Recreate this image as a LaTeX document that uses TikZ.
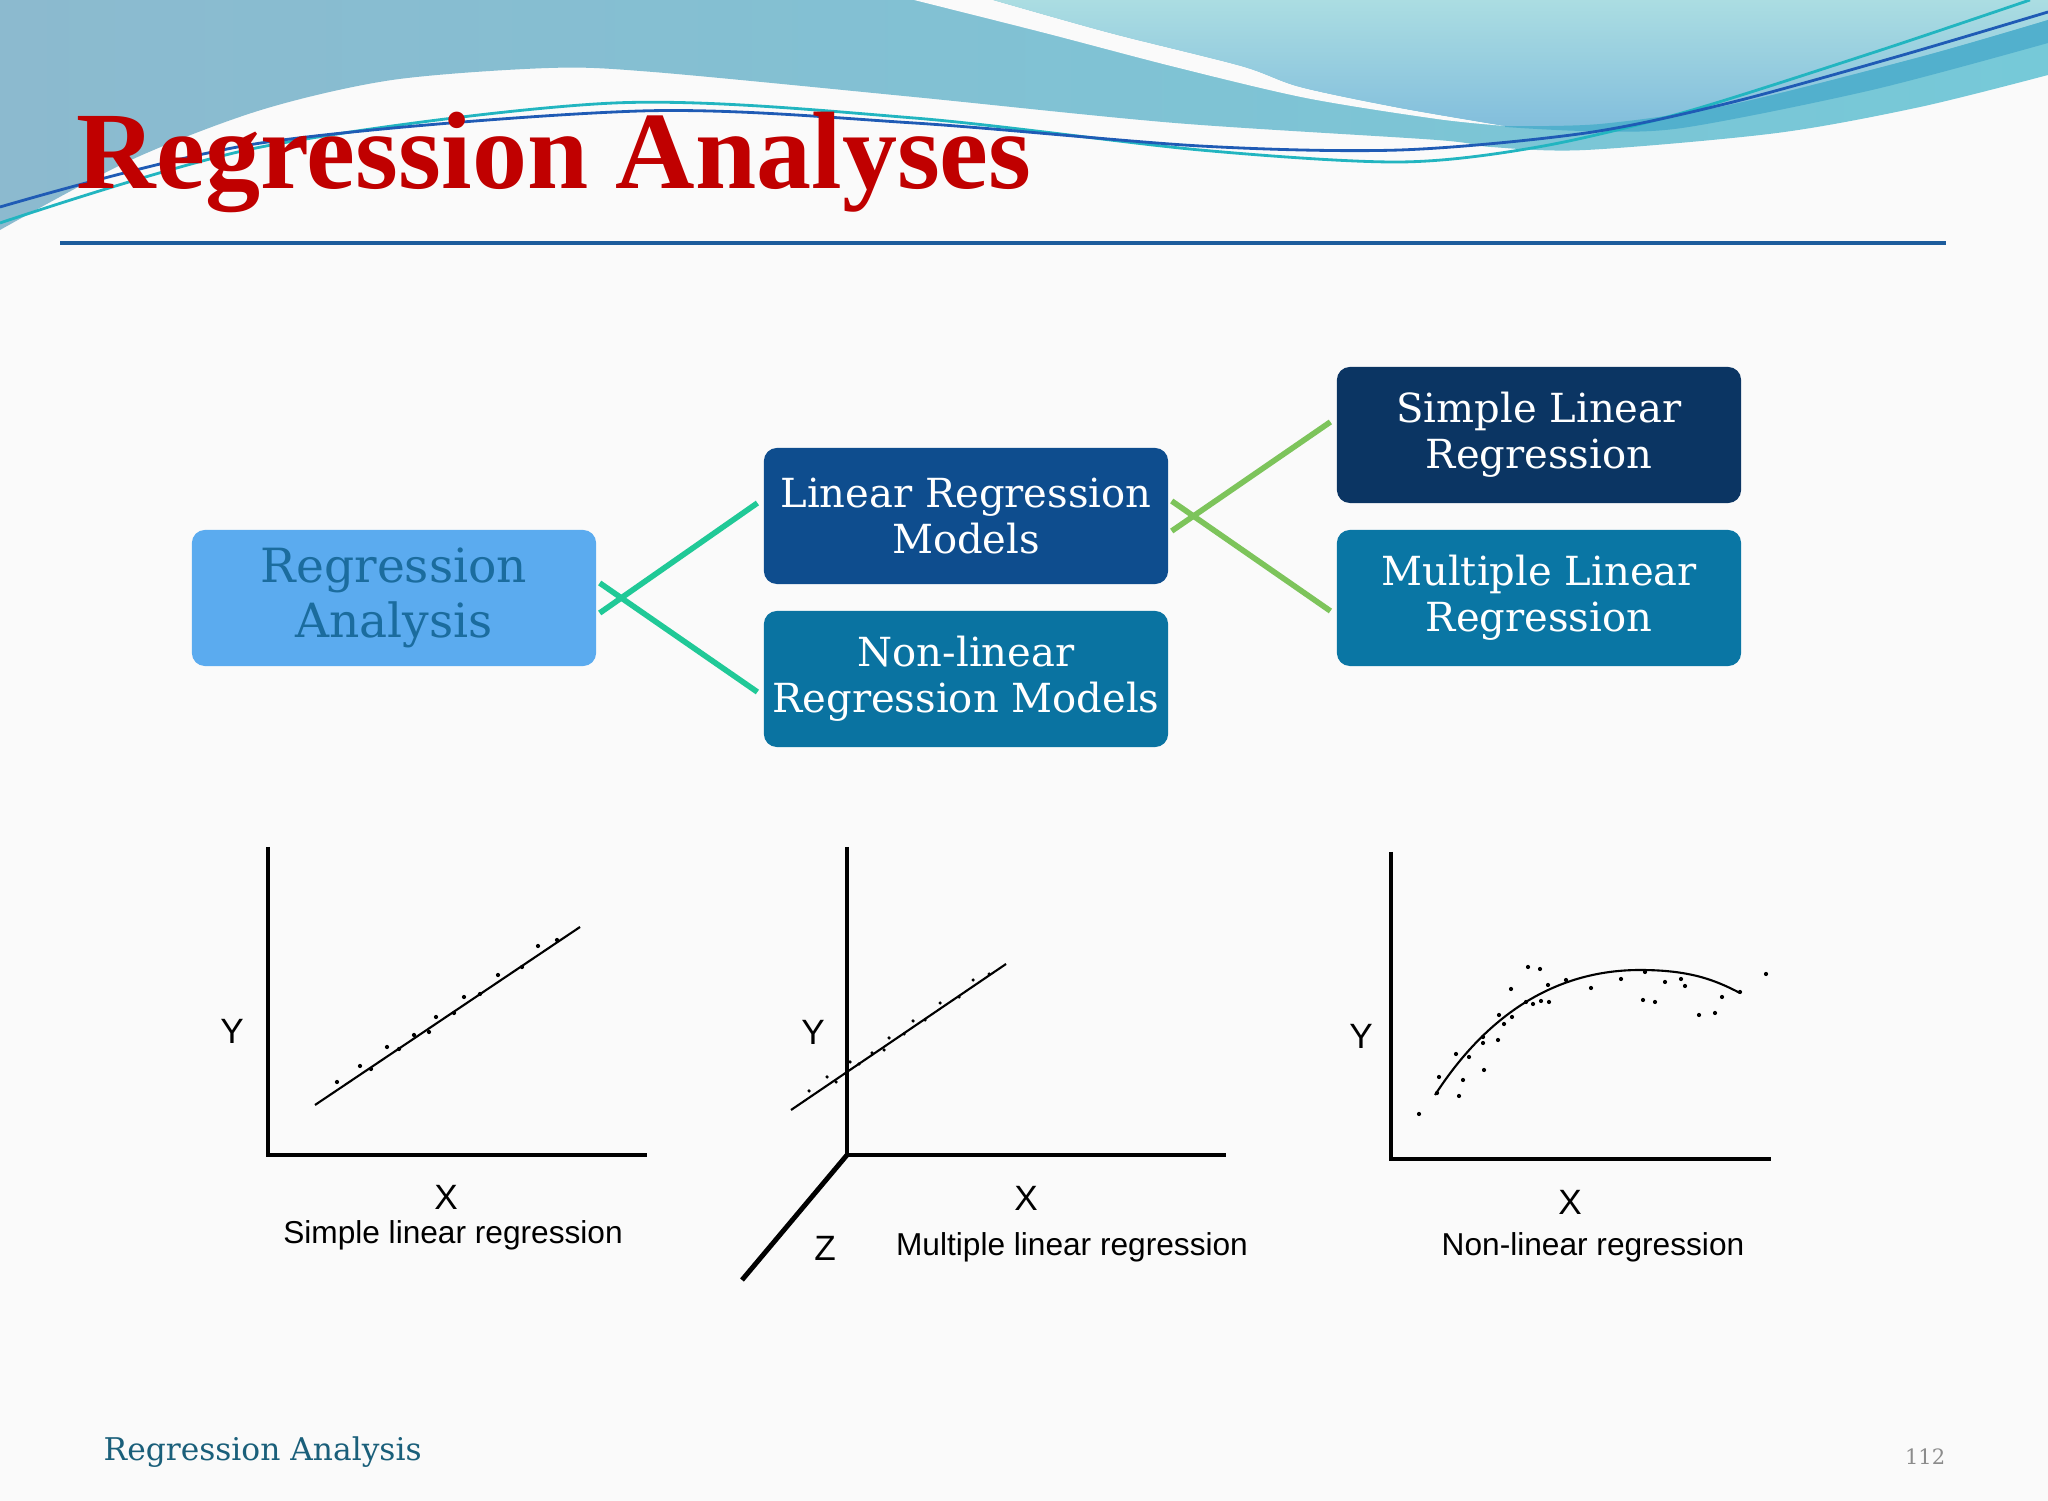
\documentclass[tikz,border=0pt]{standalone}
\usepackage{fontspec}
\setmainfont{DejaVu Serif}
\newfontfamily\titlefont{Liberation Serif}
\newfontfamily\chartfont{Liberation Sans}
\definecolor{titlered}{HTML}{C00000}
\definecolor{rulebl}{HTML}{1C5C9C}
\definecolor{raFill}{HTML}{5BABEF}
\definecolor{raText}{HTML}{1B6C9E}
\definecolor{lrmFill}{HTML}{0E4D8E}
\definecolor{nlrmFill}{HTML}{0A73A1}
\definecolor{slrFill}{HTML}{0B3563}
\definecolor{mlrFill}{HTML}{0A76A4}
\definecolor{mint}{HTML}{20C997}
\definecolor{leaf}{HTML}{7DC45B}
\definecolor{footteal}{HTML}{1A5F7A}
\tikzset{
  box/.style={rounded corners=3.7pt, minimum width=4.04cm, minimum height=1.36cm,
    align=center, text=white, inner sep=0pt, font=\fontsize{11.4}{13.1}\selectfont},
  link/.style={line width=1.6pt},
  axis/.style={line width=1.4pt},
  fitline/.style={line width=0.6pt},
  axlabel/.style={font=\chartfont\fontsize{10}{12}\selectfont},
  caption/.style={font=\chartfont\fontsize{9}{11}\selectfont}
}
\begin{document}
\begin{tikzpicture}[x=0.01cm,y=-0.01cm]
\useasboundingbox (0,0) rectangle (2048,1501);
\fill[black!2] (0,0) rectangle (2048,1501);
% header waves
\shade[left color={rgb,255:red,140;green,186;blue,207}, right color={rgb,255:red,118;green,201;blue,216}]
  (0,0) -- (2048,0) -- (2048,75) -- plot[smooth] coordinates {(2048,75) (1920,107) (1777,133) (1586,150) (1491,147) (1437,140) (1175,123) (914,97) (653,72) (549,68) (392,80) (261,110) (131,160) (0,230)} -- cycle;
\fill[black!2] plot[smooth] coordinates {(914,0) (1045,33) (1175,67) (1306,98) (1437,119) (1505,126)}
  -- plot[smooth] coordinates {(1505,126) (1400,108) (1300,87) (1241,66) (1110,33) (993,0)} -- cycle;
\shade[top color={rgb,255:red,171;green,221;blue,226}, bottom color={rgb,255:red,130;green,190;blue,220}]
  (993,0) -- (2048,0) -- (2048,20) -- plot[smooth] coordinates {(2048,20) (1920,57) (1729,105) (1600,124) (1505,126)}
  -- plot[smooth] coordinates {(1505,126) (1400,108) (1300,87) (1241,66) (1110,33) (993,0)} -- cycle;
\fill[color={rgb,255:red,82;green,176;blue,205}] plot[smooth] coordinates {(1505,126) (1600,124) (1729,105) (1920,57) (2048,20)}
  -- (2048,43) -- plot[smooth] coordinates {(2048,43) (1872,90) (1682,128) (1586,131) (1505,127)} -- cycle;
\draw[line width=0.8pt, color={rgb,255:red,34;green,181;blue,192}] plot[smooth] coordinates {(0,223) (261,147) (614,103) (914,118) (1200,150) (1400,162) (1538,147) (1682,113) (1872,53) (2030,0)};
\draw[line width=0.8pt, color={rgb,255:red,31;green,91;blue,181}] plot[smooth] coordinates {(0,207) (261,143) (640,111) (914,123) (1200,146) (1400,150) (1586,133) (1729,103) (1896,57) (2048,12)};
% title
\node[anchor=base west, inner sep=0pt, text=titlered, font=\titlefont\bfseries\fontsize{31.3}{36}\selectfont] (title) at (76,189) {Regression Analyses};
\draw[line width=1.15pt, rulebl] (60,243) -- (1946,243);
% boxes
\node[box, fill=raFill, text=raText, font=\fontsize{13.4}{15.6}\selectfont] (ra) at (394,598) {Regression\\Analysis};
\node[box, fill=lrmFill] (lrm) at (966,516) {Linear Regression\\Models};
\node[box, fill=nlrmFill] (nlrm) at (966,679) {Non-linear\\Regression Models};
\node[box, fill=slrFill] (slr) at (1539,435) {Simple Linear\\Regression};
\node[box, fill=mlrFill] (mlr) at (1539,598) {Multiple Linear\\Regression};
\draw[link, mint, shorten <=1pt, shorten >=2pt] ([yshift=-0.17cm]ra.east) -- ([yshift=0.17cm]lrm.west);
\draw[link, mint, shorten <=1pt, shorten >=2pt] ([yshift=0.17cm]ra.east) -- ([yshift=-0.17cm]nlrm.west);
\draw[link, leaf, shorten <=1pt, shorten >=2pt] ([yshift=-0.17cm]lrm.east) -- ([yshift=0.17cm]slr.west);
\draw[link, leaf, shorten <=1pt, shorten >=2pt] ([yshift=0.17cm]lrm.east) -- ([yshift=-0.17cm]mlr.west);
% simple linear regression
\draw[axis] (268,847) -- (268,1155) -- (647,1155);
\draw[fitline] (315,1105) -- (580,927);
\foreach \p in {(337,1082),(360,1066),(371,1069),(387,1047),(399,1049),(414,1035),(429,1032),(436,1017),(454,1013),(464,997),(480,994),(498,975),(522,967),(538,946),(557,940)}
  \fill \p circle (0.6pt);
\node[axlabel] (y1) at (232,1031) {Y};
\node[axlabel] (x1) at (446,1197) {X};
\node[caption] (cap1) at (453,1235) {Simple linear regression};
% multiple linear regression
\draw[axis] (847,847) -- (847,1155) -- (1226,1155);
\draw[axis] (847,1155) -- (742,1280);
\draw[fitline] (791,1110) -- (1006,964);
\foreach \p in {(809,1091),(827,1077),(836,1082),(850,1062),(859,1064),(872,1053),(884,1050),(889,1038),(904,1034),(913,1021),(925,1020),(940,1003),(959,997),(973,980),(989,974)}
  \fill \p circle (0.5pt);
\node[axlabel] (y2) at (813,1032) {Y};
\node[axlabel] (x2) at (1026,1198) {X};
\node[axlabel] (z2) at (825,1248) {Z};
\node[caption] (cap2) at (1072,1247) {Multiple linear regression};
% non-linear regression
\draw[axis] (1391,852) -- (1391,1159) -- (1771,1159);
\draw[fitline] (1435,1095) .. controls (1490,1010) and (1560,970) .. (1640,970) .. controls (1690,970) and (1715,980) .. (1740,993);
\foreach \p in {(1419,1114),(1437,1093),(1439,1077),(1456,1054),(1459,1096),(1463,1080),(1469,1057),(1483,1037),(1483,1043),(1484,1070),(1498,1040),(1499,1015),(1504,1024),(1511,989),(1512,1017),(1526,1002),(1528,967),(1533,1004),(1540,969),(1541,1001),(1548,985),(1549,1002),(1566,980),(1591,988),(1621,979),(1643,1000),(1645,972),(1655,1002),(1665,982),(1681,979),(1685,986),(1699,1015),(1715,1013),(1722,997),(1740,992),(1766,974)}
  \fill \p circle (0.6pt);
\node[axlabel] (y3) at (1361,1036) {Y};
\node[axlabel] (x3) at (1570,1202) {X};
\node[caption] (cap3) at (1593,1247) {Non-linear regression};
% footer
\node[anchor=west, inner sep=0pt, text=footteal, font=\fontsize{8.9}{11}\selectfont] (foot) at (103,1452) {Regression Analysis};
\node[anchor=east, inner sep=0pt, text=black!45, font=\fontsize{6}{7}\selectfont] (page) at (1946,1457) {112};
\end{tikzpicture}
\end{document}
